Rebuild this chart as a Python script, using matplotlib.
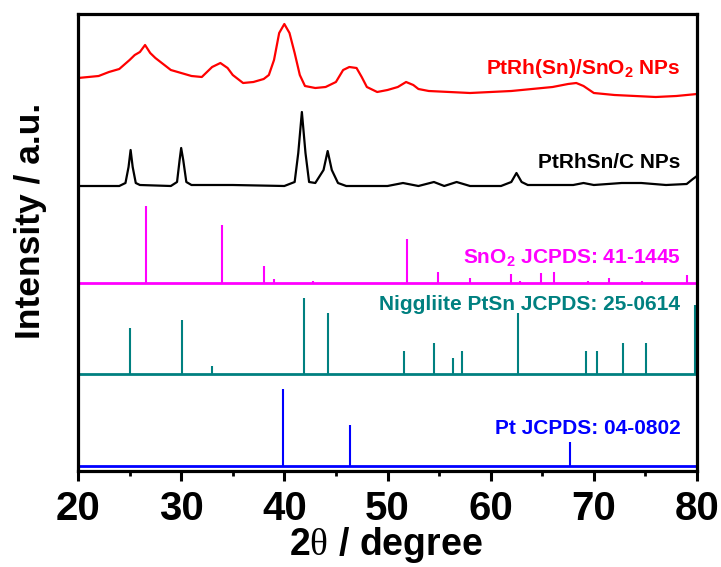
import matplotlib
matplotlib.use("Agg")
import matplotlib.pyplot as plt
from matplotlib.ticker import MultipleLocator

plt.rcParams['mathtext.fontset'] = 'custom'
plt.rcParams['mathtext.rm'] = 'Liberation Serif'
plt.rcParams['mathtext.bf'] = 'Liberation Sans:bold'
plt.rcParams['mathtext.it'] = 'Liberation Serif:italic'

# ---- data (intensity in arbitrary units, already offset for stacking) ----
red_2theta = [20.0, 21.0, 22.0, 23.0, 24.0, 25.0, 25.5, 26.0, 26.5, 27.0, 27.5, 28.0, 29.0,
              30.0, 31.0, 32.0, 32.5, 33.0, 33.8, 34.5, 35.0, 36.0, 37.0, 38.0, 38.5, 39.0,
              39.5, 40.0, 40.5, 41.0, 41.5, 42.0, 43.0, 44.0, 45.0, 45.7, 46.3, 47.0, 47.5,
              48.0, 49.0, 50.0, 51.0, 51.8, 52.5, 53.0, 54.0, 56.0, 58.0, 60.0, 62.0, 64.0,
              66.0, 67.5, 68.3, 69.0, 70.0, 72.0, 74.0, 76.0, 78.0, 80.0]
red_int = [393, 394, 395, 399, 402, 411, 416, 419, 426, 418, 413, 409, 401,
           398, 395, 394, 399, 404, 408, 403, 396, 388, 389, 392, 396, 411,
           438, 447, 438, 418, 396, 385, 383, 384, 389, 401, 404, 403, 394,
           384, 379, 381, 384, 389, 386, 382, 380, 379, 378, 379, 380, 382,
           384, 387, 388, 385, 378, 376, 375, 374, 375, 377]

black_2theta = [20.0, 22.0, 24.0, 24.6, 24.9, 25.1, 25.3, 25.6, 26.0, 29.0, 29.6, 29.85, 30.0,
                30.2, 30.5, 31.0, 35.0, 40.0, 41.0, 41.35, 41.7, 42.05, 42.4, 43.0, 43.8,
                44.2, 44.6, 45.2, 46.0, 50.0, 51.5, 53.0, 54.5, 55.5, 56.7, 58.0, 61.0,
                62.0, 62.5, 63.0, 63.6, 68.0, 69.0, 70.0, 72.7, 74.6, 77.0, 79.0, 79.6, 80.0]
black_int = [285, 285, 285, 288, 304, 321, 304, 288, 286, 285, 289, 311, 323,
             311, 289, 286, 286, 285, 289, 318, 359, 318, 289, 288, 301,
             320, 301, 288, 285, 285, 288, 285, 289, 285, 289, 285, 285,
             289, 298, 289, 286, 286, 288, 286, 288, 288, 286, 287, 292, 295]

sno2_pos = [26.6, 33.98, 38.03, 39.0, 42.8, 51.85, 54.9, 57.97, 62.0, 62.8, 64.9, 66.1,
            69.4, 71.5, 74.7, 79.0]
sno2_height = [77, 57.7, 16.7, 3.7, 1.7, 44.3, 11, 5.3, 9, 1.7, 9.7, 11.3, 1.7, 5, 1.7, 7.7]
sno2_base = 188

ptsn_pos = [25.03, 30.05, 32.96, 41.91, 44.19, 51.61, 54.52, 56.32, 57.23, 62.69, 69.28,
            70.34, 72.78, 75.09, 79.85]
ptsn_height = [46, 54, 8, 76.5, 61.5, 23, 31, 16, 23, 61, 23, 23, 31, 31, 69]
ptsn_base = 97

pt_pos = [39.83, 46.35, 67.67]
pt_height = [76.7, 40.7, 24]
pt_base = 5

labels = ['PtRh(Sn)/SnO$_{\\mathbf{2}}$ NPs', 'PtRhSn/C NPs',
          'SnO$_{\\mathbf{2}}$ JCPDS: 41-1445', 'Niggliite PtSn JCPDS: 25-0614',
          'Pt JCPDS: 04-0802']
label_colors = ['#FF0000', '#000000', '#FF00FF', '#008080', '#0000FF']
label_y = [403, 309, 214, 166, 42]

xticks = [20, 30, 40, 50, 60, 70, 80]

# ---- plot ----
fig = plt.figure(figsize=(7.21, 5.67), dpi=100)
ax = fig.add_axes([78 / 721, 1 - 471 / 567, (697 - 78) / 721, (471 - 13.5) / 567])

ax.plot(red_2theta, red_int, color='#FF0000', lw=1.6)
ax.plot(black_2theta, black_int, color='#000000', lw=1.6)

ax.vlines(sno2_pos, sno2_base, [sno2_base + h for h in sno2_height], color='#FF00FF', lw=1.5)
ax.axhline(sno2_base, color='#FF00FF', lw=2.0)
ax.vlines(ptsn_pos, ptsn_base, [ptsn_base + h for h in ptsn_height], color='#008080', lw=1.5)
ax.axhline(ptsn_base, color='#008080', lw=2.0)
ax.vlines(pt_pos, pt_base, [pt_base + h for h in pt_height], color='#0000FF', lw=1.5)
ax.axhline(pt_base, color='#0000FF', lw=2.0)

for t, c, y in zip(labels, label_colors, label_y):
    ax.text(78.4, y, t, color=c, ha='right', va='center', fontsize=15,
            fontweight='bold', family='Liberation Sans')

ax.set_xlim(20, 80)
ax.set_ylim(0, 457.5)
ax.set_xticks(xticks)
ax.xaxis.set_minor_locator(MultipleLocator(5))
ax.tick_params(axis='x', which='major', direction='out', length=7, width=2.2, pad=7)
ax.tick_params(axis='x', which='minor', direction='out', length=3.5, width=2.0)
ax.tick_params(axis='y', left=False, labelleft=False)
for lab in ax.get_xticklabels():
    lab.set_family('Liberation Sans')
    lab.set_fontweight('bold')
    lab.set_fontsize(29)
for s in ax.spines.values():
    s.set_linewidth(2.3)

fig.text(386 / 721, 1 - 545 / 567, '2$\\mathrm{\\theta}$ / degree', ha='center', va='center',
         fontsize=27, fontweight='bold', family='Liberation Sans')
fig.text(31 / 721, 1 - 221 / 567, 'Intensity / a.u.', ha='center', va='center', rotation=90,
         fontsize=25.5, fontweight='bold', family='Liberation Sans')

fig.savefig('out.png', dpi=100)
